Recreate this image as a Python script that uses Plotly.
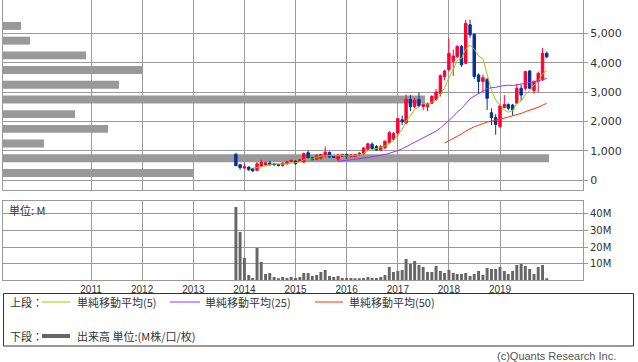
import pandas as pd
import plotly.graph_objects as go

# ---------------- data ----------------
months = pd.date_range("2013-11-01", periods=74, freq="MS")

opens = [880, 530, 420, 450, 390, 340, 470, 520, 590, 560, 540, 500, 560, 640, 650, 640,
         620, 940, 770, 720, 750, 820, 950, 820, 720, 820, 880, 800, 810, 880, 900, 1060,
         1230, 1150, 1030, 1100, 1280, 1400, 1600, 2060, 1950, 2750, 2500, 2750, 2510, 2500,
         2620, 2750, 2950, 3530, 3760, 4050, 4210, 4550, 3980, 5290, 4970, 3580, 3360, 3430,
         2300, 2140, 1830, 2480, 2580, 2560, 2620, 3130, 3130, 3720, 3050, 3360, 3420, 4320]
highs = [930, 560, 580, 470, 400, 620, 700, 640, 660, 590, 560, 600, 650, 700, 680, 720,
         940, 1010, 800, 870, 900, 1150, 980, 860, 900, 900, 900, 890, 900, 960, 1130, 1280,
         1290, 1200, 1200, 1350, 1680, 1650, 2120, 2200, 2920, 2900, 2800, 2980, 2620, 2650,
         2900, 3100, 3600, 3760, 4830, 4450, 4600, 4600, 5450, 5460, 5000, 3640, 3600, 3480,
         2450, 2250, 2560, 2900, 2620, 2600, 3280, 3250, 3720, 3750, 3400, 3700, 4500, 4380]
lows = [480, 360, 380, 320, 290, 330, 450, 500, 500, 510, 480, 470, 540, 600, 530, 620,
        600, 740, 680, 700, 700, 780, 770, 760, 640, 800, 720, 790, 790, 830, 880, 1020,
        1050, 1000, 1000, 1080, 1250, 1350, 1500, 1880, 1900, 2350, 2450, 2480, 2380, 2350,
        2600, 2700, 2850, 3400, 3700, 3550, 4150, 3850, 3950, 4850, 3450, 2950, 3000, 2390,
        1880, 1550, 1780, 2450, 2380, 2200, 2600, 2700, 3050, 3100, 2950, 3000, 3380, 4150]
closes = [500, 430, 460, 360, 320, 560, 610, 600, 530, 530, 500, 590, 630, 680, 560, 700,
          910, 770, 700, 850, 880, 960, 790, 780, 860, 880, 800, 860, 870, 920, 1100, 1240,
          1080, 1030, 1150, 1330, 1620, 1590, 2100, 1990, 2760, 2500, 2720, 2530, 2590, 2600,
          2850, 3000, 3560, 3720, 4320, 4230, 4550, 3930, 5340, 4950, 3530, 3360, 3490, 2790,
          2130, 1900, 2530, 2580, 2450, 2400, 3130, 2900, 3700, 3130, 3350, 3640, 4320, 4200]
volume_m = [44.2, 29.1, 13.5, 3.2, 1.4, 19.5, 11.0, 3.8, 4.4, 2.0, 1.0, 2.0, 1.4, 2.0, 1.4, 2.0,
            4.4, 4.4, 2.6, 3.2, 5.0, 6.2, 2.6, 2.0, 2.6, 1.4, 1.4, 1.4, 0.8, 0.8, 1.4, 2.0,
            1.4, 1.4, 2.0, 3.2, 8.0, 5.0, 5.6, 6.2, 12.9, 9.8, 11.6, 9.2, 8.0, 5.0, 5.0, 8.6,
            5.6, 4.4, 6.2, 4.4, 3.8, 3.8, 4.4, 2.6, 3.8, 5.6, 3.2, 7.4, 6.8, 6.8, 8.0, 5.6,
            3.8, 5.6, 9.2, 9.8, 8.6, 6.8, 3.8, 8.0, 9.2, 0.8]

# price-band volume profile (relative volume per 500-yen band)
profile_price = [250, 750, 1250, 1750, 2250, 2750, 3250, 3750, 4250, 4750, 5250]
profile_volume = [190, 546, 41, 105, 72, 422, 116, 139, 83, 27, 18]

year_ticks = ["2011-01-01", "2012-01-01", "2013-01-01", "2014-01-01", "2015-01-01",
              "2016-01-01", "2017-01-01", "2018-01-01", "2019-01-01"]
year_labels = ["2011", "2012", "2013", "2014", "2015", "2016", "2017", "2018", "2019"]
price_ticks = [0, 1000, 2000, 3000, 4000, 5000]
price_labels = ["0", "1,000", "2,000", "3,000", "4,000", "5,000"]
vol_ticks = [10, 20, 30, 40]
vol_labels = ["10M", "20M", "30M", "40M"]

ma_specs = [(5, "#99CC00", "単純移動平均(5)"),
            (25, "#9933FF", "単純移動平均(25)"),
            (50, "#FF3300", "単純移動平均(50)")]

# ---------------- figure ----------------
W, H = 638, 362
ML, MR = 3, 55
PW = W - ML - MR
GRID = "#9A9A9A"
FONT = "DejaVu Sans"
JFONT = "Noto Sans CJK JP"


def px(x):
    return (x - ML) / PW


def py(y):
    return 1 - y / H


close_s = pd.Series(closes, index=months)

fig = go.Figure()

# volume profile (base subplot, drawn below candles)
fig.add_trace(go.Bar(
    x=profile_volume, y=profile_price, orientation="h", width=270,
    marker=dict(color="#999999", line=dict(width=0)),
    xaxis="x", yaxis="y", showlegend=False, hoverinfo="skip"))

fig.add_trace(go.Candlestick(
    x=months, open=opens, high=highs, low=lows, close=closes,
    xaxis="x2", yaxis="y",
    increasing=dict(line=dict(color="#FF0033", width=1), fillcolor="#FF0033"),
    decreasing=dict(line=dict(color="#003399", width=1), fillcolor="#003399"),
    whiskerwidth=0, showlegend=False))

for n, col, name in ma_specs:
    ma = close_s.rolling(n).mean()
    fig.add_trace(go.Scatter(x=months, y=ma, mode="lines", name=name,
                             line=dict(color=col, width=1),
                             xaxis="x2", yaxis="y", showlegend=False))

fig.add_trace(go.Bar(x=months, y=volume_m, width=21 * 24 * 3600 * 1000,
                     marker=dict(color="#666666", line=dict(width=0)),
                     xaxis="x3", yaxis="y2", showlegend=False))

xr = ["2009-04-12", "2020-08-16"]
top_dom = [py(190), 1]
vol_dom = [py(280.3), py(201.3)]

fig.update_layout(
    width=W, height=H,
    margin=dict(l=ML, r=MR, t=0, b=0),
    paper_bgcolor="white", plot_bgcolor="white",
    showlegend=False, boxgap=0.12,
    xaxis=dict(domain=[0, 1], range=[0, PW], anchor="y", visible=False, fixedrange=True),
    xaxis2=dict(domain=[0, 1], type="date", range=xr, overlaying="x", anchor="y",
                tickvals=year_ticks, showticklabels=False, showgrid=True,
                gridcolor=GRID, gridwidth=1, showline=True, mirror=True,
                linecolor=GRID, linewidth=1, rangeslider=dict(visible=False), ticks=""),
    yaxis=dict(domain=top_dom, range=[-330, 6133], side="right", anchor="x",
               tickvals=price_ticks, ticktext=price_labels, showgrid=True,
               gridcolor=GRID, gridwidth=1, zeroline=False, showline=True,
               mirror=True, linecolor=GRID, linewidth=1, ticks="outside",
               ticklen=4, tickcolor=GRID, tickfont=dict(family=FONT, size=11, color="#333333")),
    xaxis3=dict(domain=[0, 1], type="date", range=xr, anchor="y2",
                tickvals=year_ticks, ticktext=year_labels, showgrid=True,
                gridcolor=GRID, gridwidth=1, showline=True, mirror=True,
                linecolor=GRID, linewidth=1, ticks="",
                tickfont=dict(family="Liberation Sans", size=10, color="#333333")),
    yaxis2=dict(domain=vol_dom, range=[0, 47.6], side="right", anchor="x3",
                tickvals=vol_ticks, ticktext=vol_labels, showgrid=True,
                gridcolor=GRID, gridwidth=1, zeroline=False, showline=True,
                mirror=True, linecolor=GRID, linewidth=1, ticks="outside",
                ticklen=4, tickcolor=GRID, tickfont=dict(family=FONT, size=10, color="#333333")),
)

ann = []
shapes = []
ann.append(dict(x=px(7), y=py(210), xref="paper", yref="paper", text="単位: M",
                showarrow=False, xanchor="left", yanchor="middle",
                font=dict(family=JFONT, size=11, color="#333333")))

# legend box
shapes.append(dict(type="rect", xref="paper", yref="paper", x0=px(3.5), x1=px(633.5),
                   y0=py(346), y1=py(293.5), line=dict(color="#333333", width=1)))
row1, row2 = 302, 336
LF = dict(family=JFONT, size=11, color="#333333")
ann.append(dict(x=px(8), y=py(row1), xref="paper", yref="paper", text="上段：",
                showarrow=False, xanchor="left", yanchor="middle", font=LF))
ann.append(dict(x=px(8), y=py(row2), xref="paper", yref="paper", text="下段：",
                showarrow=False, xanchor="left", yanchor="middle", font=LF))
seg_x = [(42, 70, 75), (170, 200, 203), (315, 343, 347)]
for (x0, x1, tx), (n, col, name) in zip(seg_x, ma_specs):
    shapes.append(dict(type="line", xref="paper", yref="paper", x0=px(x0), x1=px(x1),
                       y0=py(row1), y1=py(row1), line=dict(color=col, width=1)))
    ann.append(dict(x=px(tx), y=py(row1), xref="paper", yref="paper", text=name,
                    showarrow=False, xanchor="left", yanchor="middle", font=LF))
shapes.append(dict(type="line", xref="paper", yref="paper", x0=px(42), x1=px(70),
                   y0=py(row2), y1=py(row2), line=dict(color="#666666", width=4)))
ann.append(dict(x=px(75), y=py(row2), xref="paper", yref="paper",
                text="出来高 単位:(M株/口/枚)", showarrow=False, xanchor="left",
                yanchor="middle", font=LF))
ann.append(dict(x=px(618), y=py(356), xref="paper", yref="paper",
                text="(c)Quants Research Inc.", showarrow=False, xanchor="right",
                yanchor="middle", font=dict(family="Liberation Sans", size=11, color="#555555")))

fig.update_layout(annotations=ann, shapes=shapes)
fig.write_html("out.html", config={"displayModeBar": False},
               post_script="document.body.style.margin='0';")
